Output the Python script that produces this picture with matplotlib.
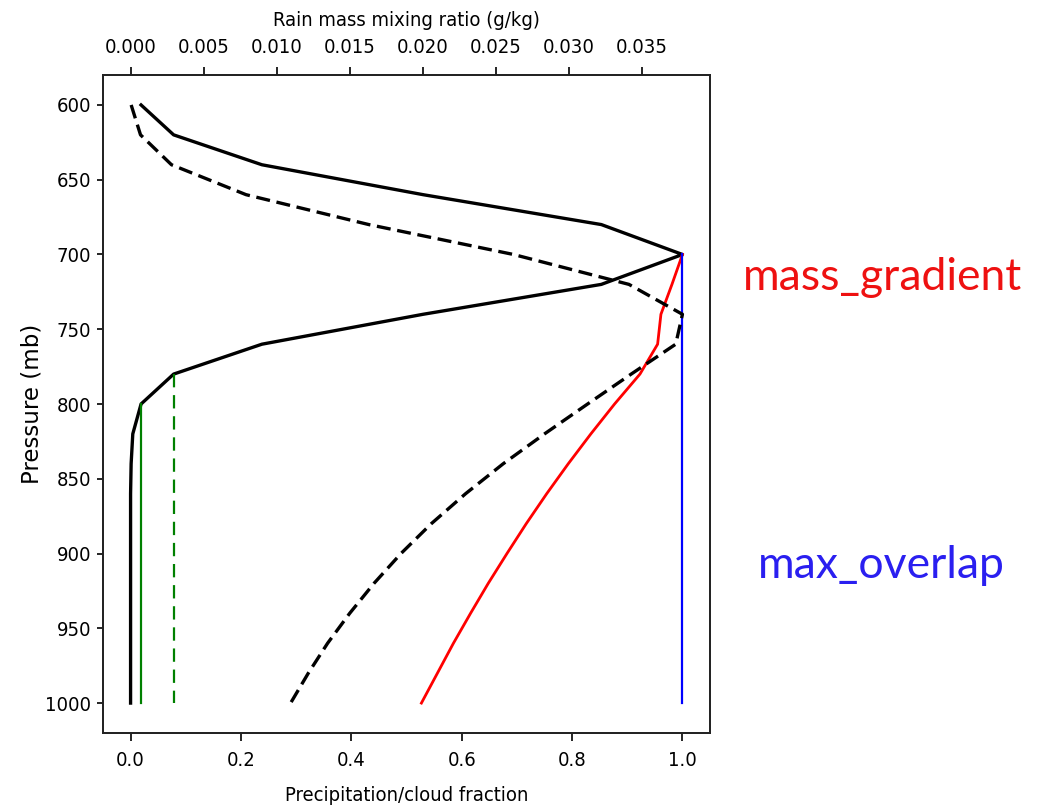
import matplotlib
matplotlib.use("Agg")
import matplotlib.pyplot as plt
from matplotlib.font_manager import FontProperties

# pressure levels (mb)
pressure = [600, 620, 640, 660, 680, 700, 720, 740, 760, 780, 800,
            820, 840, 860, 880, 900, 920, 940, 960, 980, 1000]

# cloud fraction (solid black, bottom axis)
cloud_frac = [0.019, 0.078, 0.238, 0.53, 0.853, 1.0, 0.853, 0.53, 0.238, 0.078, 0.019,
              0.004, 0.001, 0.0, 0.0, 0.0, 0.0, 0.0, 0.0, 0.0, 0.0]

# rain mass mixing ratio, g/kg (dashed black, top axis)
rain_q = [0.00004, 0.00068, 0.0028, 0.0079, 0.0163, 0.0262, 0.0341, 0.03776, 0.0373,
          0.03425, 0.03127, 0.02832, 0.02549, 0.02292, 0.02058, 0.0185, 0.01665,
          0.01499, 0.01348, 0.01216, 0.01095]

# precipitation fraction, mass_gradient method (red)
p_red = [700, 720, 740, 760, 780, 800, 820, 840, 860, 880, 900, 920, 940, 960, 980, 1000]
frac_mass_gradient = [1.0, 0.981, 0.961, 0.955, 0.923, 0.877, 0.834, 0.793, 0.754,
                      0.717, 0.682, 0.648, 0.616, 0.585, 0.556, 0.527]

# precipitation fraction, max_overlap method (blue)
p_blue = [700, 1000]
frac_max_overlap = [1.0, 1.0]

# green reference lines
p_green_solid = [800, 1000]
green_solid = [0.019, 0.019]
p_green_dash = [780, 1000]
green_dash = [0.078, 0.078]

rain_ticks = [0.0, 0.005, 0.010, 0.015, 0.020, 0.025, 0.030, 0.035]
rain_ticklabels = ["0.000", "0.005", "0.010", "0.015", "0.020", "0.025", "0.030", "0.035"]

TICK_FONT = FontProperties(family="DejaVu Sans", stretch="condensed", size=14.5)

fig = plt.figure(figsize=(10.53, 8.06), dpi=100)
ax = fig.add_axes([0.0978, 0.0906, 0.5765, 0.8163])

ax.plot(cloud_frac, pressure, color="black", linewidth=2.4)
ax.plot(green_solid, p_green_solid, color="green", linewidth=1.6)
ax.plot(green_dash, p_green_dash, color="green", linewidth=1.6, linestyle=(0, (6, 3.5)))
ax.plot(frac_mass_gradient, p_red, color="red", linewidth=2.0)
ax.plot(frac_max_overlap, p_blue, color="blue", linewidth=1.6)
ax.set_xlim(-0.05, 1.05)
ax.set_ylim(1020, 580)
ax.set_xticks([0.0, 0.2, 0.4, 0.6, 0.8, 1.0])
ax.set_yticks([600, 650, 700, 750, 800, 850, 900, 950, 1000])

ax2 = ax.twiny()
ax2.plot(rain_q, pressure, color="black", linewidth=2.4, linestyle=(0, (4.2, 2.0)))
rmax = max(rain_q)
ax2.set_xlim(-0.05 * rmax, 1.05 * rmax)
ax2.set_xticks(rain_ticks)
ax2.set_xticklabels(rain_ticklabels)

for a in (ax, ax2):
    for s in a.spines.values():
        s.set_linewidth(1.3)
        s.set_color("#222222")
    for lab in a.get_xticklabels() + a.get_yticklabels():
        lab.set_fontproperties(TICK_FONT)

ax.tick_params(axis="x", length=5.8, width=1.2, pad=7.5)
ax.tick_params(axis="y", length=4.5, width=1.2, pad=4)
ax2.tick_params(axis="x", length=5.8, width=1.2, pad=7)

ax.set_xlabel("Precipitation/cloud fraction", family="DejaVu Sans", fontstretch="condensed",
              fontsize=14.5, labelpad=11)
ax2.set_xlabel("Rain mass mixing ratio (g/kg)", family="DejaVu Sans", fontstretch="condensed",
               fontsize=14.5, labelpad=9)
ax.set_ylabel("Pressure (mb)", fontsize=16.5, labelpad=1)

fig.text(0.838, 0.656, "mass_gradient", color="#ee1111", family="Lato", fontsize=32,
         ha="center", va="center")
fig.text(0.837, 0.298, "max_overlap", color="#2a1ff0", family="Lato", fontsize=32,
         ha="center", va="center")

fig.savefig("out.png", dpi=100)
